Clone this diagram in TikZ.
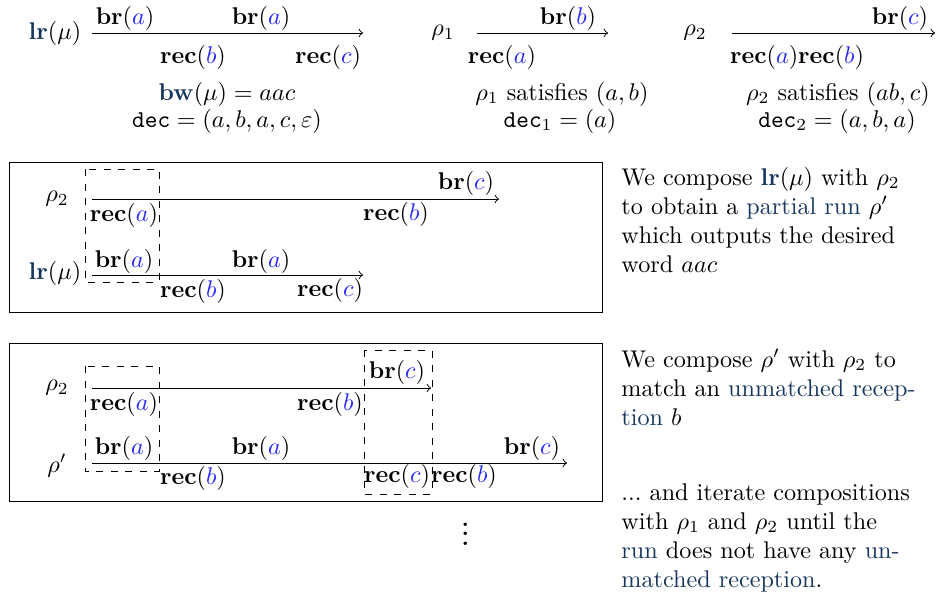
\documentclass[tikz,border=0pt]{standalone}
\usepackage{amsmath,amsfonts,amssymb}
\usepackage{xcolor}
\usepackage{tikz}
\definecolor{deepblue}{RGB}{23,54,93}
\definecolor{letterblue}{RGB}{40,40,245}
\newcommand{\lrop}{\textcolor{deepblue}{\mathbf{lr}}}
\newcommand{\bwop}{\textcolor{deepblue}{\mathbf{bw}}}
\newcommand{\brop}[1]{\mathbf{br}(\textcolor{letterblue}{#1})}
\newcommand{\recop}[1]{\mathbf{rec}(\textcolor{letterblue}{#1})}
\newcommand{\decop}{\mathtt{dec}}
\newcommand{\hl}[1]{\textcolor{deepblue}{#1}}

\begin{document}
\begin{tikzpicture}[x=0.4137pt,y=-0.4137pt,every node/.style={inner sep=0pt},
  comment/.style={anchor=base west,text width=130pt,align=left}]
   \useasboundingbox (0,0) rectangle (939,600);
   % top row: the runs lr(mu), rho_1 and rho_2
   \node (lrm) at (55,33) {$\lrop(\mu)$};
   \coordinate (lrs) at (92,33);
   \coordinate (lre) at (363,33);
   \draw[->] (lrs) -- (lre);
   \node (lrba) at (125,18) {$\brop{a}$};
   \node (lrbb) at (261,18) {$\brop{a}$};
   \node (lrrb) at (193,57) {$\recop{b}$};
   \node (lrrc) at (328,57) {$\recop{c}$};
   \node (bw) at (227,94) {$\bwop(\mu) = aac$};
   \node (dec) at (227,121) {$\decop = (a,b,a,c,\varepsilon)$};

   \node (ro) at (443,33) {$\rho_1$};
   \coordinate (ros) at (477,33);
   \coordinate (roe) at (608,33);
   \draw[->] (ros) -- (roe);
   \node (robb) at (568,18) {$\brop{b}$};
   \node (rora) at (502,57) {$\recop{a}$};
   \node (rosat) at (562,94) {$\rho_1$ satisfies $(a,b)$};
   \node (rodec) at (560,121) {$\decop_1 = (a)$};

   \node (rt) at (695,33) {$\rho_2$};
   \coordinate (rts) at (732,33);
   \coordinate (rte) at (935,33);
   \draw[->] (rts) -- (rte);
   \node (rtbc) at (900,18) {$\brop{c}$};
   \node (rtrab) at (797,57) {$\recop{a}\recop{b}$};
   \node (rtsat) at (838,94) {$\rho_2$ satisfies $(ab,c)$};
   \node (rtdec) at (837,121) {$\decop_2 = (a,b,a)$};

   % first composition
   \draw (9,162) rectangle (602,312);
   \draw[dashed] (85,169) rectangle (159,282);
   \node (pa) at (57,199) {$\rho_2$};
   \coordinate (pas) at (92,199);
   \coordinate (pae) at (499,199);
   \draw[->] (pas) -- (pae);
   \node (pabc) at (466,183) {$\brop{c}$};
   \node (para) at (124,215) {$\recop{a}$};
   \node (parb) at (396,214) {$\recop{b}$};
   \node (pb) at (55,273) {$\lrop(\mu)$};
   \coordinate (pbs) at (92,275);
   \coordinate (pbe) at (363,275);
   \draw[->] (pbs) -- (pbe);
   \node (pbba) at (124,261) {$\brop{a}$};
   \node (pbbb) at (261,261) {$\brop{a}$};
   \node (pbrb) at (193,291) {$\recop{b}$};
   \node (pbrc) at (330,290) {$\recop{c}$};
   \node[comment] (txta) at (621,185) {We compose $\lrop(\mu)$ with $\rho_2$\\
      to obtain a \hl{partial run} $\rho'$\\
      which outputs the desired\\
      word $aac$};

   % second composition
   \draw (9,343) rectangle (602,501);
   \draw[dashed] (85,366) rectangle (159,471);
   \draw[dashed] (364,350) rectangle (432,494);
   \node (qa) at (57,388) {$\rho_2$};
   \coordinate (qas) at (92,388);
   \coordinate (qae) at (431,388);
   \draw[->] (qas) -- (qae);
   \node (qabc) at (397,372) {$\brop{c}$};
   \node (qara) at (124,404) {$\recop{a}$};
   \node (qarb) at (330,404) {$\recop{b}$};
   \node (qb) at (57,466) {$\rho'$};
   \coordinate (qbs) at (92,463);
   \coordinate (qbe) at (567,463);
   \draw[->] (qbs) -- (qbe);
   \node (qbba) at (124,448) {$\brop{a}$};
   \node (qbbb) at (261,448) {$\brop{a}$};
   \node (qbbc) at (532,448) {$\brop{c}$};
   \node (qbrb) at (193,478) {$\recop{b}$};
   \node (qbrc) at (397,476) {$\recop{c}$};
   \node (qbrd) at (464,476) {$\recop{b}$};
   \node[comment] (txtb) at (621,367) {We compose $\rho'$ with $\rho_2$ to\\
      match an \hl{unmatched recep-}\\
      \hl{tion} $b$};

   \node (dots) at (466,527) {\LARGE$\vdots$};
   \node[comment] (txtc) at (621,500) {...\ and iterate compositions\\
      with $\rho_1$ and $\rho_2$ until the\\
      \hl{run} does not have any \hl{un-}\\
      \hl{matched reception}.};
\end{tikzpicture}
\end{document}
